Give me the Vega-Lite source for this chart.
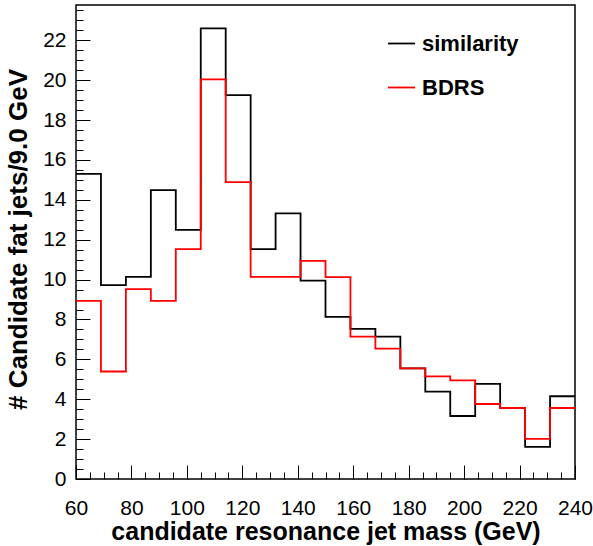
{
  "$schema": "https://vega.github.io/schema/vega-lite/v6.json",
  "width": 499,
  "height": 474,
  "autosize": "none",
  "padding": {"left": 76, "top": 5, "right": 18, "bottom": 67},
  "config": {
    "view": {"stroke": "black", "strokeWidth": 1.5},
    "font": "Liberation Sans",
    "axis": {"domainColor": "black", "tickColor": "black", "labelColor": "black", "titleColor": "black", "grid": false, "labelFont": "Liberation Sans", "titleFont": "Liberation Sans"}
  },
  "data": {
    "values": [
      {"series": "similarity", "lo": 60, "hi": 69, "n": 15.30},
      {"series": "similarity", "lo": 69, "hi": 78, "n": 9.72},
      {"series": "similarity", "lo": 78, "hi": 87, "n": 10.14},
      {"series": "similarity", "lo": 87, "hi": 96, "n": 14.49},
      {"series": "similarity", "lo": 96, "hi": 105, "n": 12.49},
      {"series": "similarity", "lo": 105, "hi": 114, "n": 22.60},
      {"series": "similarity", "lo": 114, "hi": 123, "n": 19.25},
      {"series": "similarity", "lo": 123, "hi": 132, "n": 11.53},
      {"series": "similarity", "lo": 132, "hi": 141, "n": 13.32},
      {"series": "similarity", "lo": 141, "hi": 150, "n": 9.95},
      {"series": "similarity", "lo": 150, "hi": 159, "n": 8.13},
      {"series": "similarity", "lo": 159, "hi": 168, "n": 7.53},
      {"series": "similarity", "lo": 168, "hi": 177, "n": 7.14},
      {"series": "similarity", "lo": 177, "hi": 186, "n": 5.55},
      {"series": "similarity", "lo": 186, "hi": 195, "n": 4.38},
      {"series": "similarity", "lo": 195, "hi": 204, "n": 3.16},
      {"series": "similarity", "lo": 204, "hi": 213, "n": 4.77},
      {"series": "similarity", "lo": 213, "hi": 222, "n": 3.56},
      {"series": "similarity", "lo": 222, "hi": 231, "n": 1.61},
      {"series": "similarity", "lo": 231, "hi": 240, "n": 4.15},
      {"series": "BDRS", "lo": 60, "hi": 69, "n": 8.93},
      {"series": "BDRS", "lo": 69, "hi": 78, "n": 5.39},
      {"series": "BDRS", "lo": 78, "hi": 87, "n": 9.52},
      {"series": "BDRS", "lo": 87, "hi": 96, "n": 8.93},
      {"series": "BDRS", "lo": 96, "hi": 105, "n": 11.53},
      {"series": "BDRS", "lo": 105, "hi": 114, "n": 20.04},
      {"series": "BDRS", "lo": 114, "hi": 123, "n": 14.89},
      {"series": "BDRS", "lo": 123, "hi": 132, "n": 10.14},
      {"series": "BDRS", "lo": 132, "hi": 141, "n": 10.14},
      {"series": "BDRS", "lo": 141, "hi": 150, "n": 10.94},
      {"series": "BDRS", "lo": 150, "hi": 159, "n": 10.12},
      {"series": "BDRS", "lo": 159, "hi": 168, "n": 7.14},
      {"series": "BDRS", "lo": 168, "hi": 177, "n": 6.54},
      {"series": "BDRS", "lo": 177, "hi": 186, "n": 5.55},
      {"series": "BDRS", "lo": 186, "hi": 195, "n": 5.15},
      {"series": "BDRS", "lo": 195, "hi": 204, "n": 4.95},
      {"series": "BDRS", "lo": 204, "hi": 213, "n": 3.76},
      {"series": "BDRS", "lo": 213, "hi": 222, "n": 3.56},
      {"series": "BDRS", "lo": 222, "hi": 231, "n": 2.01},
      {"series": "BDRS", "lo": 231, "hi": 240, "n": 3.56}
    ]
  },
  "transform": [{"fold": ["lo", "hi"], "as": ["edge", "x"]}],
  "layer": [
    {
      "mark": {"type": "line", "opacity": 0},
      "encoding": {
        "x": {"field": "x", "type": "quantitative", "scale": {"domain": [60, 240], "nice": false, "zero": false},
          "axis": {"orient": "bottom", "values": [60,65,70,75,80,85,90,95,100,105,110,115,120,125,130,135,140,145,150,155,160,165,170,175,180,185,190,195,200,205,210,215,220,225,230,235,240], "labels": false, "title": null, "domain": false, "tickSize": -7, "tickWidth": 1}},
        "y": {"field": "n", "type": "quantitative", "scale": {"domain": [0, 23.77], "nice": false},
          "axis": {"orient": "left", "values": [0,0.5,1,1.5,2,2.5,3,3.5,4,4.5,5,5.5,6,6.5,7,7.5,8,8.5,9,9.5,10,10.5,11,11.5,12,12.5,13,13.5,14,14.5,15,15.5,16,16.5,17,17.5,18,18.5,19,19.5,20,20.5,21,21.5,22,22.5,23,23.5], "labels": false, "title": null, "domain": false, "tickSize": -7, "tickWidth": 1}},
        "detail": {"field": "series", "type": "nominal"},
        "order": [{"field": "lo", "type": "quantitative"}, {"field": "edge", "type": "nominal", "sort": "descending"}]
      }
    },
    {
      "mark": {"type": "line", "strokeWidth": 1.8, "interpolate": "linear"},
      "encoding": {
        "x": {"field": "x", "type": "quantitative", "scale": {"domain": [60, 240], "nice": false, "zero": false},
          "axis": {"orient": "bottom", "values": [60,80,100,120,140,160,180,200,220,240], "tickSize": -14, "tickWidth": 1, "domain": false, "labelFlush": false, "labelFontSize": 21, "labelPadding": 32, "title": "candidate resonance jet mass (GeV)", "titleFontSize": 25, "titleFontWeight": "bold", "titlePadding": 1}},
        "y": {"field": "n", "type": "quantitative", "scale": {"domain": [0, 23.77], "nice": false},
          "axis": {"orient": "left", "values": [0,2,4,6,8,10,12,14,16,18,20,22], "tickSize": -14, "tickWidth": 1, "domain": false, "labelFlush": false, "labelFontSize": 21, "labelPadding": 24, "title": "# Candidate fat jets/9.0 GeV", "titleFontSize": 26, "titleFontWeight": "bold", "titlePadding": 11, "titleY": 234}},
        "color": {"field": "series", "type": "nominal", "scale": {"domain": ["similarity", "BDRS"], "range": ["black", "red"]},
          "legend": {"title": null, "orient": "none", "legendX": 311, "legendY": 24, "symbolType": "stroke", "symbolSize": 729, "symbolStrokeWidth": 1.8, "labelFontSize": 22, "labelFontWeight": "bold", "labelColor": "black", "labelOffset": 6, "rowPadding": 18, "padding": 0}},
        "order": [{"field": "lo", "type": "quantitative"}, {"field": "edge", "type": "nominal", "sort": "descending"}]
      }
    }
  ],
  "resolve": {"axis": {"x": "independent", "y": "independent"}}
}
